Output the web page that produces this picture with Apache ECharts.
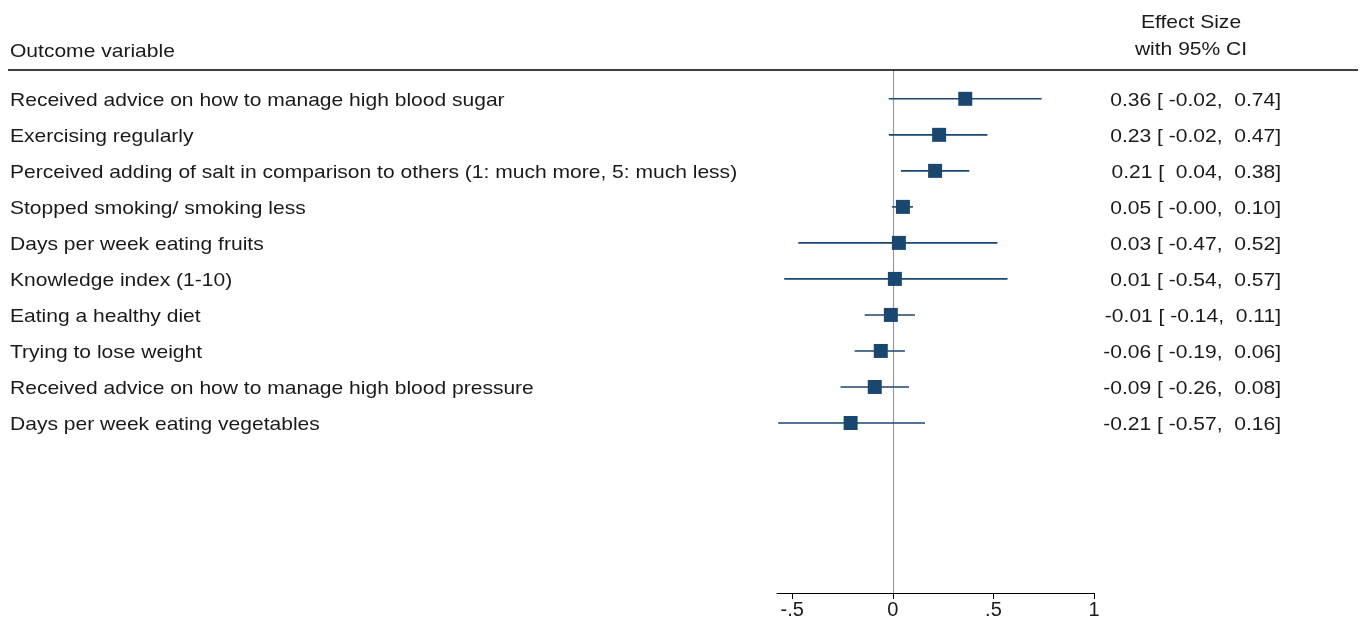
<!DOCTYPE html>
<html>
<head>
<meta charset="utf-8">
<script src="https://cdn.jsdelivr.net/npm/echarts@6/dist/echarts.min.js"></script>
<style>
  html, body { margin: 0; padding: 0; background: #fff; }
  #chart { width: 1360px; height: 622px; }
</style>
</head>
<body>
<div id="chart"></div>
<script>
// Outcomes, point estimates and 95% confidence bounds
const outcomes = [
  'Received advice on how to manage high blood sugar',
  'Exercising regularly',
  'Perceived adding of salt in comparison to others (1: much more, 5: much less)',
  'Stopped smoking/ smoking less',
  'Days per week eating fruits',
  'Knowledge index (1-10)',
  'Eating a healthy diet',
  'Trying to lose weight',
  'Received advice on how to manage high blood pressure',
  'Days per week eating vegetables'
];
const estimate = [0.36, 0.23, 0.21, 0.05, 0.03, 0.01, -0.01, -0.06, -0.09, -0.21];
const lower = [-0.02, -0.02, 0.04, -0.004, -0.47, -0.54, -0.14, -0.19, -0.26, -0.57];
const upper = [0.74, 0.47, 0.38, 0.10, 0.52, 0.57, 0.11, 0.06, 0.08, 0.16];
const xTicks = [-0.5, 0, 0.5, 1];
const xTickLabels = ['-.5', '0', '.5', '1'];

const FONT = "'Liberation Sans', Arial, Helvetica, sans-serif";
const FONT_CSS = '19px ' + FONT;
const STRETCH = 1.107;   // text is set slightly wide
const MARK = '#1a476f';
const TEXT = '#1a1a1a';

function pad(v) { return v.toFixed(2).padStart(5, ' '); }
function ciText(i) {
  return estimate[i].toFixed(2) + ' [ ' + pad(lower[i]) + ', ' + pad(upper[i]) + ']';
}

function label(x, y, text, align) {
  return {
    type: 'text', x: x, y: y, scaleX: STRETCH,
    style: { text: text, font: FONT_CSS, fill: TEXT, textAlign: align, textVerticalAlign: 'middle' }
  };
}

const rows = outcomes.map((name, i) => [i, lower[i], upper[i], estimate[i]]);

const chart = echarts.init(document.getElementById('chart'), null, { renderer: 'canvas' });

chart.setOption({
  animation: false,
  backgroundColor: '#fff',
  grid: { left: 777, width: 317, top: 70, height: 523, containLabel: false },
  xAxis: {
    type: 'value',
    min: -0.576,
    max: 1,
    splitLine: { show: false },
    axisLine: { show: true, onZero: false, lineStyle: { color: '#000', width: 1 } },
    axisTick: { show: true, length: 6, lineStyle: { color: '#000' }, customValues: xTicks },
    axisLabel: {
      show: true, margin: 7, color: TEXT, fontSize: 20, fontFamily: FONT,
      customValues: xTicks,
      formatter: v => xTickLabels[xTicks.indexOf(v)] ?? ''
    }
  },
  yAxis: {
    type: 'value',
    inverse: true,
    min: -0.8,
    max: 13.72,
    show: false,
    splitLine: { show: false }
  },
  graphic: [
    { type: 'line', shape: { x1: 8, y1: 70, x2: 1358, y2: 70 }, style: { stroke: '#000', lineWidth: 1.5 }, z: 10 },
    label(10, 52, 'Outcome variable', 'left'),
    label(1191, 23, 'Effect Size', 'center'),
    label(1191, 50, 'with 95% CI', 'center')
  ],
  series: [
    {
      // reference line at zero effect
      type: 'line',
      data: [],
      markLine: {
        silent: true,
        symbol: 'none',
        label: { show: false },
        lineStyle: { color: '#9a9a9a', width: 1.2, type: 'solid' },
        data: [{ xAxis: 0 }]
      }
    },
    {
      // confidence intervals with square point estimates
      type: 'custom',
      data: rows,
      encode: { x: [1, 2, 3], y: 0 },
      z: 5,
      renderItem: (params, api) => {
        const i = api.value(0);
        const pLo = api.coord([api.value(1), i]);
        const pHi = api.coord([api.value(2), i]);
        const pE = api.coord([api.value(3), i]);
        const s = 14;
        return {
          type: 'group',
          children: [
            { type: 'line', shape: { x1: pLo[0], y1: pLo[1], x2: pHi[0], y2: pHi[1] }, style: { stroke: MARK, lineWidth: 1.6 } },
            { type: 'rect', shape: { x: pE[0] - s / 2, y: pE[1] - s / 2, width: s, height: s }, style: { fill: MARK } }
          ]
        };
      }
    },
    {
      // outcome names on the left, effect sizes on the right
      type: 'custom',
      data: rows,
      encode: { x: 3, y: 0 },
      clip: false,
      renderItem: (params, api) => {
        const i = api.value(0);
        const y = api.coord([0, i])[1] + 1.5;
        return {
          type: 'group',
          children: [
            label(10, y, outcomes[i], 'left'),
            label(1281, y, ciText(i), 'right')
          ]
        };
      }
    }
  ]
});
</script>
</body>
</html>
